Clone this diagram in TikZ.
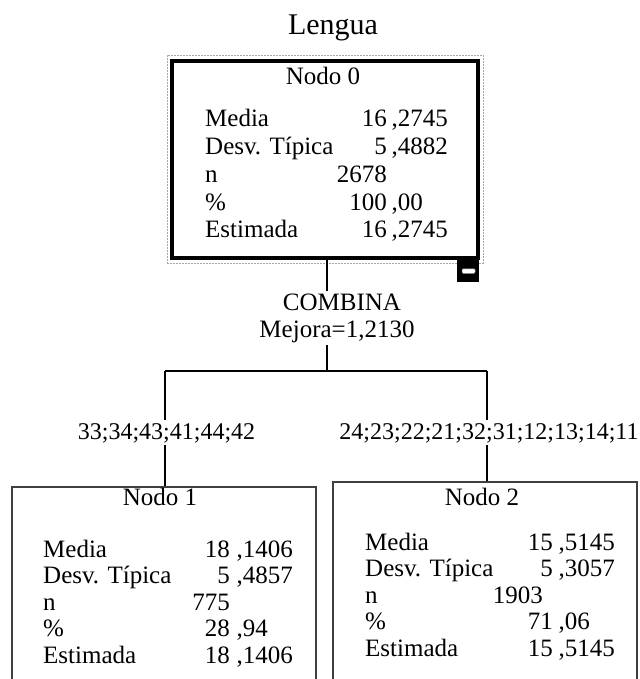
\documentclass[tikz,border=0pt]{standalone}
\usepackage{fontspec}
\setmainfont{Liberation Serif}
\begin{document}
\begin{tikzpicture}[x=1pt,y=1pt,
  txt/.style={inner sep=0pt, font=\fontsize{25}{27}\selectfont},
  lbl/.style={txt, anchor=base west},
  intv/.style={txt, anchor=base east},
  decv/.style={txt, anchor=base west},
  ttl/.style={txt, anchor=base},
  cbox/.style={draw=black!75, line width=1.2pt, rectangle, minimum width=304pt, minimum height=230pt, inner sep=0pt},
  conn/.style={draw=black, line width=1.1pt},
  splitlbl/.style={inner sep=2.5pt, anchor=base, font=\fontsize{25}{27}\selectfont},
  catlbl/.style={inner sep=2.5pt, anchor=base, font=\fontsize{24}{26}\selectfont}]
\useasboundingbox (0,0) rectangle (639,-679);

% title
\node[ttl, font=\fontsize{30}{32}\selectfont] (title) at (333,-35) {Lengua};

% root node
\node[draw=black!35, dash pattern=on 2pt off 1pt, line width=0.6pt, minimum width=316pt, minimum height=208pt, inner sep=0pt] (n0frame) at (325,-159) {};
\node[draw=black, line width=4.5pt, minimum width=306pt, minimum height=197pt, inner sep=0pt] (n0) at (325,-159.5) {};
\node[fill=black, minimum width=22pt, minimum height=25pt, inner sep=0pt] (minus) at (468,-269.5) {};
\node[fill=white, draw=black!40, line width=0.5pt, rounded corners=1pt, minimum width=13pt, minimum height=4.5pt, inner sep=0pt] (minusbar) at (468.5,-271) {};

\node[ttl] (t0) at (323,-85) {Nodo 0};
\node[lbl] (a0r1) at (205,-127) {Media};
\node[intv] (b0r1) at (387,-127) {16};
\node[decv] (c0r1) at (391.5,-127) {,2745};
\node[lbl] (a0r2) at (205,-154.7) {Desv. Típica};
\node[intv] (b0r2) at (387,-154.7) {5};
\node[decv] (c0r2) at (391.5,-154.7) {,4882};
\node[lbl] (a0r3) at (205,-182.4) {n};
\node[intv] (b0r3) at (387,-182.4) {2678};
\node[lbl] (a0r4) at (205,-210) {\%};
\node[intv] (b0r4) at (387,-210) {100};
\node[decv] (c0r4) at (391.5,-210) {,00};
\node[lbl] (a0r5) at (205,-237.8) {Estimada};
\node[intv] (b0r5) at (387,-237.8) {16};
\node[decv] (c0r5) at (391.5,-237.8) {,2745};

% split
\node[splitlbl] (comb) at (342,-310) {COMBINA};
\node[splitlbl] (mej) at (337,-337) {Mejora=1,2130};
\coordinate (hm) at (327,-371);
\coordinate (hl) at (165,-371);
\coordinate (hr) at (487,-371);

% child boxes
\node[cbox] (n1) at (164,-602) {};
\node[cbox] (n2) at (485,-597) {};

\node[catlbl] (l1) at (166.5,-439) {33;34;43;41;44;42};
\node[catlbl] (l2) at (489,-439) {24;23;22;21;32;31;12;13;14;11};

\draw[conn] (n0.south -| hm) -- (comb.north -| hm);
\draw[conn] (mej.south -| hm) -- (hm);
\draw[conn] (hl) -- (hr);
\draw[conn] (hl) -- (l1.north -| hl);
\draw[conn] (l1.south -| hl) -- (n1.north -| hl);
\draw[conn] (hr) -- (l2.north -| hr);
\draw[conn] (l2.south -| hr) -- (n2.north -| hr);

% node 1
\node[ttl] (t1) at (160,-505) {Nodo 1};
\node[lbl] (a1r1) at (43,-557) {Media};
\node[intv] (b1r1) at (230,-557) {18};
\node[decv] (c1r1) at (236.5,-557) {,1406};
\node[lbl] (a1r2) at (43,-583.6) {Desv. Típica};
\node[intv] (b1r2) at (230,-583.6) {5};
\node[decv] (c1r2) at (236.5,-583.6) {,4857};
\node[lbl] (a1r3) at (43,-610.2) {n};
\node[intv] (b1r3) at (230,-610.2) {775};
\node[lbl] (a1r4) at (43,-636.8) {\%};
\node[intv] (b1r4) at (230,-636.8) {28};
\node[decv] (c1r4) at (236.5,-636.8) {,94};
\node[lbl] (a1r5) at (43,-663.4) {Estimada};
\node[intv] (b1r5) at (230,-663.4) {18};
\node[decv] (c1r5) at (236.5,-663.4) {,1406};

% node 2
\node[ttl] (t2) at (482,-505) {Nodo 2};
\node[lbl] (a2r1) at (365,-550) {Media};
\node[intv] (b2r1) at (553,-550) {15};
\node[decv] (c2r1) at (558.5,-550) {,5145};
\node[lbl] (a2r2) at (365,-576.6) {Desv. Típica};
\node[intv] (b2r2) at (553,-576.6) {5};
\node[decv] (c2r2) at (558.5,-576.6) {,3057};
\node[lbl] (a2r3) at (365,-603.2) {n};
\node[intv] (b2r3) at (543,-603.2) {1903};
\node[lbl] (a2r4) at (365,-629.8) {\%};
\node[intv] (b2r4) at (553,-629.8) {71};
\node[decv] (c2r4) at (558.5,-629.8) {,06};
\node[lbl] (a2r5) at (365,-656.4) {Estimada};
\node[intv] (b2r5) at (553,-656.4) {15};
\node[decv] (c2r5) at (558.5,-656.4) {,5145};
\end{tikzpicture}
\end{document}
